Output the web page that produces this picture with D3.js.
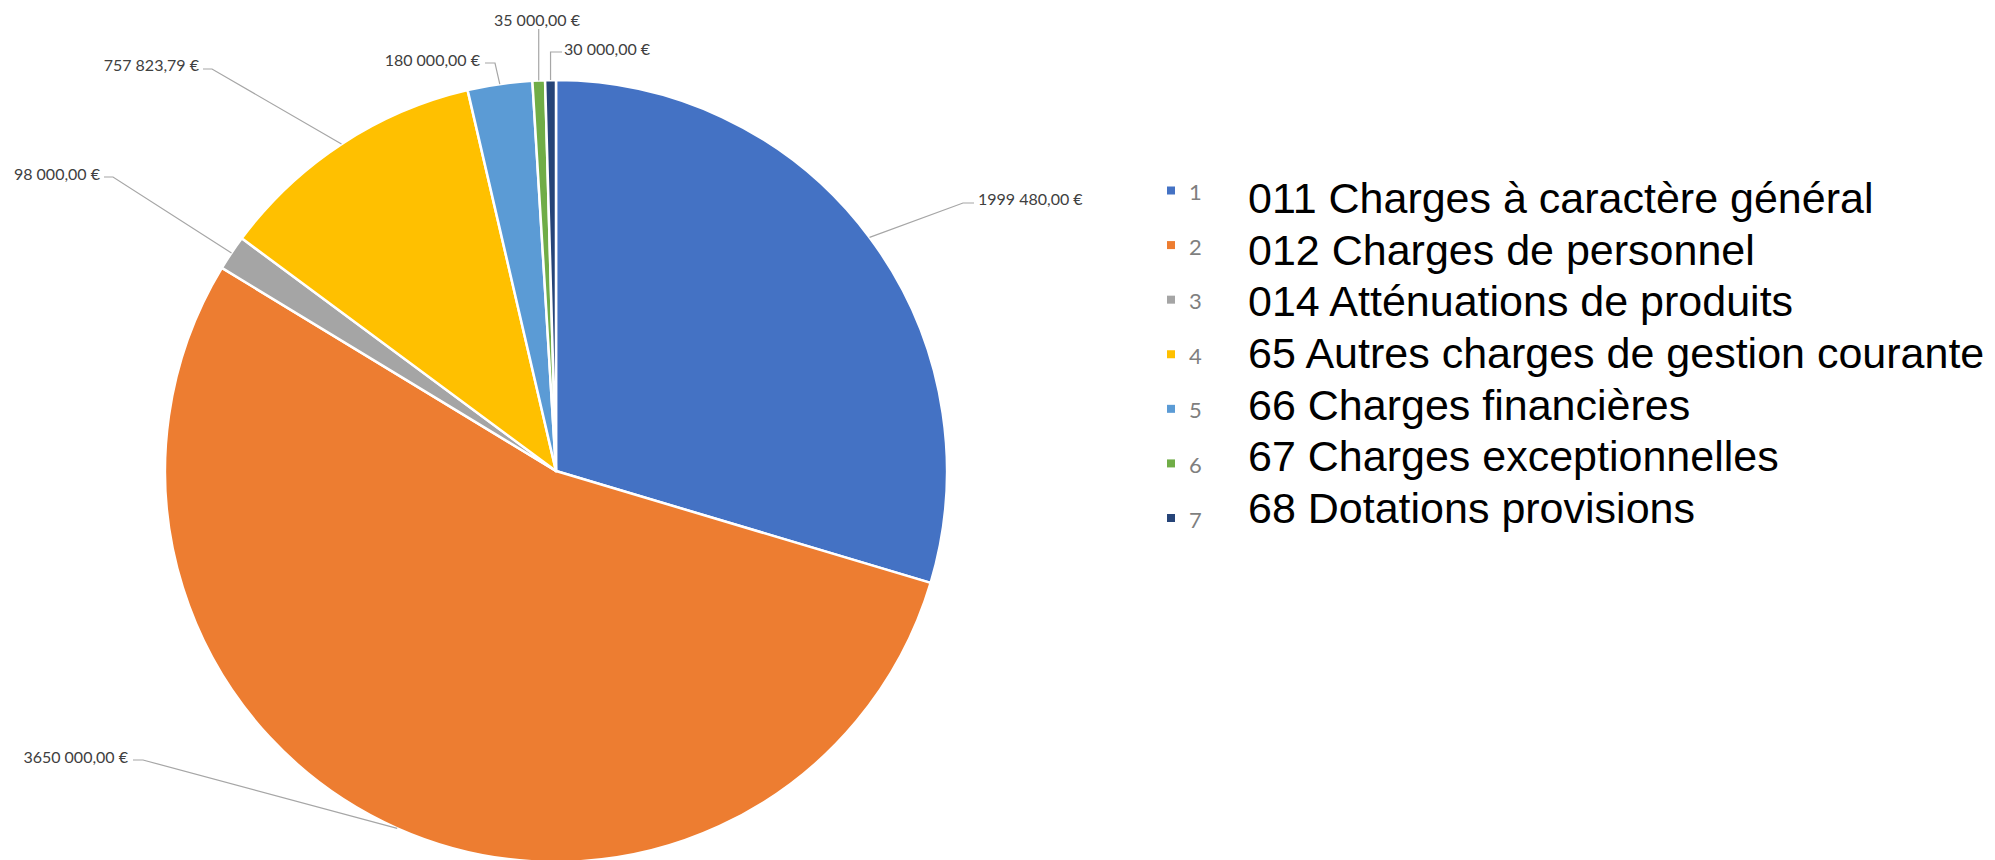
<!DOCTYPE html>
<html>
<head>
<meta charset="utf-8">
<script src="https://cdn.jsdelivr.net/npm/d3@7/dist/d3.min.js"></script>
<style>
  html, body { margin: 0; padding: 0; background: #fff; }
  svg { display: block; }
</style>
</head>
<body>
<svg id="chart" width="1995" height="860"></svg>
<script>
// ---- data ----
const categories = ["1", "2", "3", "4", "5", "6", "7"];
const legendLabels = [
  "011 Charges à caractère général",
  "012 Charges de personnel",
  "014 Atténuations de produits",
  "65 Autres charges de gestion courante",
  "66 Charges financières",
  "67 Charges exceptionnelles",
  "68 Dotations provisions"
];
const values = [1999480, 3650000, 98000, 757823.79, 180000, 35000, 30000];
const colors = ["#4472C4", "#ED7D31", "#A5A5A5", "#FFC000", "#5B9BD5", "#70AD47", "#264478"];

// ---- layout (label leader elbows/tails, text side) ----
const labelLayout = [
  { elbow: [963, 203], tail: [974, 203], text: [978, 198], anchor: "start" },
  { elbow: [143, 760], tail: [133, 760], text: [128, 756], anchor: "end" },
  { elbow: [113, 177], tail: [104, 177], text: [100, 173], anchor: "end" },
  { elbow: [212, 69],  tail: [203, 69],  text: [199, 64],  anchor: "end" },
  { elbow: [495, 63],  tail: [485, 63],  text: [480, 59],  anchor: "end" },
  { elbow: null,       tail: [538, 29],  text: [537, 19],  anchor: "middle", vertical: true },
  { elbow: null,       tail: [551, 52],  text: [564, 48],  anchor: "start", vertical: true, hook: 562 }
];

function fmtEuro(v) {
  const cents = Math.round(v * 100);
  const intPart = Math.floor(cents / 100);
  const dec = String(cents % 100).padStart(2, "0");
  const th = Math.floor(intPart / 1000);
  const rest = String(intPart % 1000).padStart(3, "0");
  return (th > 0 ? th + " " + rest : String(intPart)) + "," + dec + " €";
}

const svg = d3.select("#chart");
const cx = 556, cy = 471, R = 391;

const pie = d3.pie().sort(null).value(d => d)(values);
const arc = d3.arc().innerRadius(0).outerRadius(R);
const edge = d3.arc().innerRadius(R).outerRadius(R);

const g = svg.append("g").attr("transform", `translate(${cx},${cy})`);
g.selectAll("path.slice")
  .data(pie)
  .join("path")
  .attr("class", "slice")
  .attr("d", arc)
  .attr("fill", (d, i) => colors[i])
  .attr("stroke", "#fff")
  .attr("stroke-width", 2.5)
  .attr("stroke-linejoin", "round");

// ---- data labels with leader lines ----
const lab = svg.append("g");
pie.forEach((d, i) => {
  const c = edge.centroid(d);
  const p0 = [cx + c[0], cy + c[1]];
  const L = labelLayout[i];
  let pts;
  if (L.vertical) {
    pts = L.hook ? [p0, [p0[0], L.tail[1]], [L.hook, L.tail[1]]] : [p0, [p0[0], L.tail[1]]];
  } else {
    pts = [p0, L.elbow, L.tail];
  }
  lab.append("path")
    .attr("d", d3.line()(pts))
    .attr("fill", "none")
    .attr("stroke", "#a6a6a6")
    .attr("stroke-width", 1.2);
  lab.append("text")
    .attr("x", L.text[0])
    .attr("y", L.text[1])
    .attr("text-anchor", L.anchor)
    .attr("dominant-baseline", "central")
    .attr("font-family", "Lato, 'Open Sans', sans-serif")
    .attr("font-size", 16)
    .attr("fill", "#404040")
    .text(fmtEuro(values[i]));
});

// ---- legend markers + numerals ----
const markerY = d3.scaleLinear().domain([0, 6]).range([190.5, 518]);
const leg = svg.append("g");
categories.forEach((c, i) => {
  const y = markerY(i);
  leg.append("rect")
    .attr("x", 1167).attr("y", y - 4)
    .attr("width", 8).attr("height", 8)
    .attr("fill", colors[i]);
  leg.append("text")
    .attr("x", 1189).attr("y", y + 1)
    .attr("dominant-baseline", "central")
    .attr("font-family", "Lato, 'Open Sans', sans-serif")
    .attr("font-size", 22)
    .attr("fill", "#7f7f7f")
    .text(c);
});

// ---- legend text ----
const textY = d3.scaleLinear().domain([0, 6]).range([213, 523]);
legendLabels.forEach((t, i) => {
  leg.append("text")
    .attr("x", 1248).attr("y", textY(i))
    .attr("font-family", "'Liberation Sans', Arial, sans-serif")
    .attr("font-size", 43)
    .attr("fill", "#000")
    .text(t);
});
</script>
</body>
</html>
